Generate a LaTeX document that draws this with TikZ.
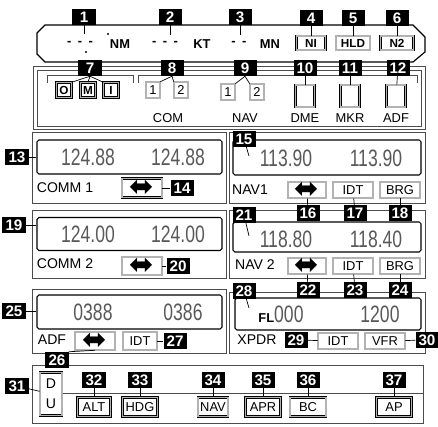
\documentclass[tikz,border=0pt]{standalone}
\usepackage{fontspec}
\setmainfont{Liberation Sans}
\newfontfamily\symfont{DejaVu Sans}
\usepackage{tikz}
\usetikzlibrary{positioning, calc}
\tikzstyle{num} = [rectangle, fill=black, text=white, font=\fontsize{13}{13}\selectfont\bfseries, minimum width=0.69cm, minimum height=0.48cm, inner sep=0pt]
\tikzstyle{lead} = [line width=0.6pt]
\newcommand{\swapglyph}{{\symfont\fontsize{25}{25}\selectfont\raisebox{-0.3em}[0pt][0pt]{⬌}}}
\newcommand{\lcd}[1]{\scalebox{1}[1.35]{#1}}

\begin{document}
\begin{tikzpicture}[
    x=0.03cm, y=-0.03cm,
    sz/.style 2 args={minimum width=#1*0.03cm, minimum height=#2*0.03cm},
    panel/.style={draw=black!70, line width=0.8pt},
    display/.style={rectangle, draw=black, line width=0.9pt, rounded corners=1.5pt, inner sep=0pt},
    btn/.style={rectangle, draw=black, line width=0.5pt, double=black!30, double distance=0.9pt, fill=white, inner sep=0pt, font=\fontsize{11}{11}\selectfont},
    readout/.style={font=\fontsize{15}{15}\selectfont, text=black!65, inner sep=0pt},
    caption/.style={font=\fontsize{12}{12}\selectfont, inner sep=0pt},
    unit/.style={font=\fontsize{11}{11}\selectfont\bfseries, inner sep=0pt}
]
\useasboundingbox (0,0) rectangle (438,427);

% Top panel
\draw[panel, line width=1pt, draw=black] (45,25) -- (413,25) -- (425,37) -- (425,52) -- (413,62) -- (45,62) -- (37,54) -- (37,33) -- cycle;
\node (nmval) [unit] at (80,43) {-\enspace-\enspace-};
\node (nm) [unit] at (120,44) {NM};
\node (ktval) [unit] at (165,43) {-\enspace-\enspace-};
\node (kt) [unit] at (202,44) {KT};
\node (mnval) [unit] at (239,43) {-\enspace-};
\node (mn) [unit] at (270,44) {MN};
\fill (108,34) circle (1pt);
\fill (86,52) circle (1pt);
\coordinate (c1) at (84,34);
\coordinate (c2) at (170,35);
\coordinate (c3) at (240,35);
\node (ni) [btn, sz={29}{14}, font=\fontsize{10}{10}\selectfont\bfseries] at (311,43) {NI};
\node (hld) [btn, sz={34}{14}, font=\fontsize{10}{10}\selectfont\bfseries] at (353,43) {HLD};
\node (ntwo) [btn, sz={33}{14}, font=\fontsize{10}{10}\selectfont\bfseries] at (397,43) {N2};

% Selector panel
\draw[panel] (33,66) rectangle (425,129);
\draw[panel, line width=0.5pt] (37,70) rectangle (421,126);
\draw[lead, black!70] (47,83) -- (47,75) -- (133,75) -- (133,83);
\draw[lead, black!70] (138,83) -- (138,75) -- (417,75) -- (417,83);
\node (selo) [btn, sz={15}{15}, font=\fontsize{10}{10}\selectfont\bfseries] at (64,90) {O};
\node (selm) [btn, sz={15}{15}, font=\fontsize{10}{10}\selectfont\bfseries] at (88,90) {M};
\node (seli) [btn, sz={15}{15}, font=\fontsize{10}{10}\selectfont\bfseries] at (111,90) {I};
\node (comsel1) [btn, sz={14}{16}] at (153,90) {1};
\node (comsel2) [btn, sz={14}{16}] at (181,90) {2};
\node (navsel1) [btn, sz={14}{16}] at (228,92) {1};
\node (navsel2) [btn, sz={14}{16}] at (257,92) {2};
\node (dmesel) [btn, sz={19}{22}] at (305,96) {};
\node (mkrsel) [btn, sz={19}{22}] at (350,96) {};
\node (adfsel) [btn, sz={19}{22}] at (396,96) {};
\node (comcap) [caption, font=\fontsize{11}{11}\selectfont] at (168,118) {COM};
\node (navcap) [caption, font=\fontsize{11}{11}\selectfont] at (245,118) {NAV};
\node (dmecap) [caption, font=\fontsize{11}{11}\selectfont] at (305,118) {DME};
\node (mkrcap) [caption, font=\fontsize{11}{11}\selectfont] at (350,118) {MKR};
\node (adfcap) [caption, font=\fontsize{11}{11}\selectfont] at (396,118) {ADF};

% COMM 1 / NAV1
\draw[panel] (32,132) rectangle (226,203);
\node (comm1disp) [display, sz={185}{34}] at (129.5,157) {};
\node (comm1a) [readout] at (88,157) {\lcd{124.88}};
\node (comm1b) [readout] at (178,157) {\lcd{124.88}};
\node (comm1cap) [caption] at (65,188) {COMM 1};
\node (comm1swap) [btn, sz={40}{19}] at (142,188) {\swapglyph};
\draw[panel] (229,132) rectangle (425,203);
\node (nav1disp) [display, sz={188}{35}] at (327,157.5) {};
\node (nav1a) [readout] at (286,158) {\lcd{113.90}};
\node (nav1b) [readout] at (376,158) {\lcd{113.90}};
\coordinate (p15) at (249,156);
\node (nav1cap) [caption] at (250,190) {NAV1};
\node (nav1swap) [btn, sz={38}{16}] at (307,190) {\swapglyph};
\node (nav1idt) [btn, sz={40}{16}] at (353,190) {IDT};
\node (nav1brg) [btn, sz={40}{16}] at (400,190) {BRG};

% COMM 2 / NAV 2
\draw[panel] (32,210) rectangle (226,278);
\node (comm2disp) [display, sz={185}{33}] at (129.5,234) {};
\node (comm2a) [readout] at (88,234) {\lcd{124.00}};
\node (comm2b) [readout] at (178,234) {\lcd{124.00}};
\node (comm2cap) [caption] at (65,264) {COMM 2};
\node (comm2swap) [btn, sz={40}{18}] at (142,266) {\swapglyph};
\draw[panel] (229,210) rectangle (425,278);
\node (nav2disp) [display, sz={188}{30}] at (327,237) {};
\node (nav2a) [readout] at (286,239) {\lcd{118.80}};
\node (nav2b) [readout] at (376,239) {\lcd{118.40}};
\coordinate (p21) at (249,236);
\node (nav2cap) [caption] at (255,265) {NAV 2};
\node (nav2swap) [btn, sz={38}{16}] at (307,266) {\swapglyph};
\node (nav2idt) [btn, sz={40}{16}] at (353,266) {IDT};
\node (nav2brg) [btn, sz={40}{16}] at (400,266) {BRG};

% ADF / XPDR
\draw[panel] (32,289) rectangle (226,353);
\node (adfdisp) [display, sz={185}{34}] at (129.5,312) {};
\node (adfa) [readout] at (93,312) {\lcd{0388}};
\node (adfb) [readout] at (183,312) {\lcd{0386}};
\node (adfcap2) [caption] at (52,340) {ADF};
\node (adfswap) [btn, sz={40}{18}] at (95,341) {\swapglyph};
\node (adfidt) [btn, sz={34}{18}] at (140,341) {IDT};
\draw[panel] (229,292) rectangle (425,353);
\node (xpdrdisp) [display, sz={186}{32}] at (328,314) {};
\node (xpdra) [readout] at (281,314) {{\fontsize{11}{11}\selectfont\bfseries\color{black}FL}\lcd{000}};
\node (xpdrb) [readout] at (380,314) {\lcd{1200}};
\coordinate (p28) at (249,308);
\node (xpdrcap) [caption] at (257,340) {XPDR};
\node (xpdridt) [btn, sz={40}{16}] at (338,341) {IDT};
\node (xpdrvfr) [btn, sz={40}{16}] at (385,341) {VFR};

% Autopilot panel
\draw[panel] (32,365) rectangle (423,423);
\draw[lead, black!70] (62,393) -- (423,393);
\node (dubox) [btn, sz={22}{43}] at (51,394) {};
\node (dud) [caption] at (51,384) {D};
\node (duu) [caption] at (51,404) {U};
\node (alt) [btn, sz={33}{19}] at (94,407) {ALT};
\node (hdg) [btn, sz={35}{19}] at (140,407) {HDG};
\node (apnav) [btn, sz={30}{19}] at (213,407) {NAV};
\node (apr) [btn, sz={35}{19}] at (263,407) {APR};
\node (bc) [btn, sz={36}{19}] at (308,407) {BC};
\node (ap) [btn, sz={35}{19}] at (394,407) {AP};

% Callouts
\node (n7) [num] at (90,68) {7};
\node (n8) [num] at (172,68) {8};
\node (n9) [num] at (245,68) {9};
\node (n10) [num] at (305,68) {10};
\node (n11) [num] at (350,68) {11};
\node (n12) [num] at (398,68) {12};
\node (n1) [num] at (84,17) {1};
\node (n2) [num] at (170,17) {2};
\node (n3) [num] at (240,17) {3};
\node (n4) [num] at (311,18) {4};
\node (n5) [num] at (353,18) {5};
\node (n6) [num] at (397,18) {6};
\node (n13) [num] at (17,157) {13};
\node (n14) [num, right=8*0.03cm of comm1swap] {14};
\node (n15) [num] at (244,139) {15};
\node (n16) [num] at (308,213) {16};
\node (n17) [num] at (355,213) {17};
\node (n18) [num] at (400,213) {18};
\node (n19) [num] at (14,225) {19};
\node (n20) [num, right=4*0.03cm of comm2swap] {20};
\node (n21) [num] at (244,215) {21};
\node (n22) [num] at (308,290) {22};
\node (n23) [num] at (355,290) {23};
\node (n24) [num] at (400,290) {24};
\node (n25) [num] at (14,311) {25};
\node (n26) [num] at (57,360) {26};
\node (n27) [num, right=6*0.03cm of adfidt] {27};
\node (n28) [num] at (244,291) {28};
\node (n29) [num] at (296,340) {29};
\node (n30) [num] at (427,340) {30};
\node (n31) [num] at (17,386) {31};
\node (n32) [num] at (94,380) {32};
\node (n33) [num] at (140,380) {33};
\node (n34) [num] at (213,380) {34};
\node (n35) [num] at (263,380) {35};
\node (n36) [num] at (308,380) {36};
\node (n37) [num] at (394,380) {37};

% Leaders
\draw[lead] (n1) -- (c1);
\draw[lead] (n2) -- (c2);
\draw[lead] (n3) -- (c3);
\draw[lead] (n4) -- (ni);
\draw[lead] (n5) -- (hld);
\draw[lead] (n6) -- (ntwo);
\draw[lead] (n7.south) -- (selo.north east);
\draw[lead] (n7.south) -- (selm.north);
\draw[lead] (n7.south) -- (seli.north west);
\draw[lead] (n8.south) -- (comsel1.north east);
\draw[lead] (n8.south) -- (comsel2.north west);
\draw[lead] (n9.south) -- (navsel1.north east);
\draw[lead] (n9.south) -- (navsel2.north west);
\draw[lead] (n10) -- (dmesel);
\draw[lead] (n11) -- (mkrsel);
\draw[lead] (n12) -- (adfsel);
\draw[lead] (n13.east) -- (n13.east -| comm1disp.west);
\draw[lead] (comm1swap) -- (n14);
\draw[lead] (n15) -- (p15);
\draw[lead] (n16) -- (nav1swap);
\draw[lead] (n17) -- (nav1idt);
\draw[lead] (n18) -- (nav1brg);
\draw[lead] (n19.east) -- (n19.east -| comm2disp.west);
\draw[lead] (comm2swap) -- (n20);
\draw[lead] (n21) -- (p21);
\draw[lead] (n22) -- (nav2swap);
\draw[lead] (n23) -- (nav2idt);
\draw[lead] (n24) -- (nav2brg);
\draw[lead] (n25.east) -- (n25.east -| adfdisp.west);
\draw[lead] (n26.north east) -- (adfswap.south);
\draw[lead] (adfidt) -- (n27);
\draw[lead] (n28) -- (p28);
\draw[lead] (n29) -- (xpdridt);
\draw[lead] (xpdrvfr) -- (n30);
\draw[lead] (n31) -- (dubox);
\draw[lead] (n32) -- (alt);
\draw[lead] (n33) -- (hdg);
\draw[lead] (n34) -- (apnav);
\draw[lead] (n35) -- (apr);
\draw[lead] (n36) -- (bc);
\draw[lead] (n37) -- (ap);

\end{tikzpicture}
\end{document}
